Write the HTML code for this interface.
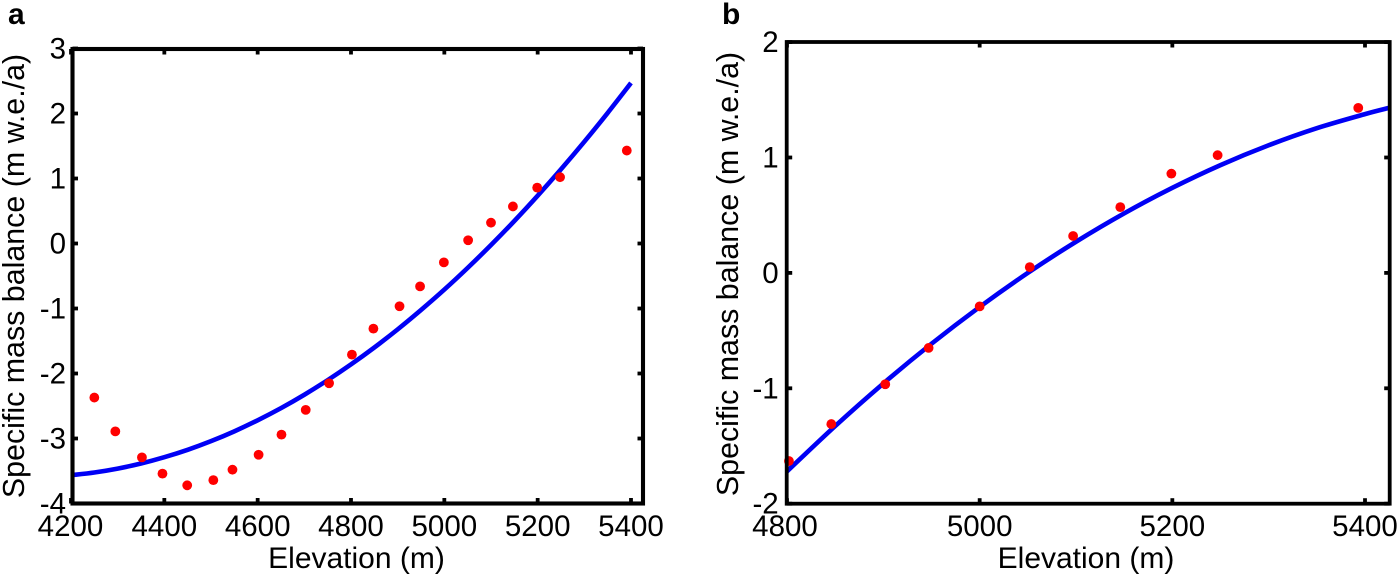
<!DOCTYPE html>
<html>
<head>
<meta charset="utf-8">
<title>Specific mass balance vs elevation</title>
<style>
html,body{margin:0;padding:0;background:#fff;}
svg{display:block;}
text{font-family:"Liberation Sans",sans-serif;fill:#000;}
</style>
</head>
<body>
<svg id="fig" width="1400" height="578" viewBox="0 0 1400 578" xmlns="http://www.w3.org/2000/svg">
<rect x="0" y="0" width="1400" height="578" fill="#fff"/>
<text x="8" y="24" font-size="30" font-weight="bold">a</text>
<text x="722" y="24" font-size="30" font-weight="bold">b</text>
<text x="356.5" y="568" font-size="30" text-anchor="middle">Elevation (m)</text>
<text x="1086" y="568" font-size="30" text-anchor="middle">Elevation (m)</text>
<text transform="translate(24,276) rotate(-90)" font-size="30.4" text-anchor="middle">Specific mass balance (m w.e./a)</text>
<text transform="translate(738,274) rotate(-90)" font-size="30.4" text-anchor="middle">Specific mass balance (m w.e./a)</text>
</svg>
<script>
const NS = 'http://www.w3.org/2000/svg';

const observedElevationA = [4250,4295,4352,4396,4449,4505,4546,4602,4651,4703,4753,4802,4848,4904,4948,4999,5051,5100,5147,5199,5248,5391];
const observedBalanceA = [-2.37,-2.89,-3.29,-3.54,-3.72,-3.64,-3.48,-3.25,-2.94,-2.56,-2.15,-1.71,-1.31,-0.965,-0.66,-0.29,0.05,0.32,0.57,0.86,1.02,1.43];
const fitElevationA = [4200,4250,4300,4350,4400,4450,4500,4550,4600,4650,4700,4750,4800,4850,4900,4950,5000,5050,5100,5150,5200,5250,5300,5350,5400];
const fitBalanceA = [-3.565,-3.523,-3.463,-3.385,-3.288,-3.174,-3.041,-2.890,-2.720,-2.533,-2.327,-2.102,-1.860,-1.600,-1.321,-1.023,-0.709,-0.375,-0.023,0.346,0.735,1.142,1.566,2.009,2.470];
const xTicksA = [4200,4400,4600,4800,5000,5200,5400];
const yTicksA = [-4,-3,-2,-1,0,1,2,3];

const observedElevationB = [4802,4846,4902,4947,5000,5052,5097,5146,5199,5247,5393];
const observedBalanceB = [-1.63,-1.31,-0.965,-0.65,-0.29,0.05,0.32,0.57,0.86,1.02,1.43];
const fitElevationB = [4800,4850,4900,4950,5000,5050,5100,5150,5200,5250,5300,5350,5400,5425];
const fitBalanceB = [-1.72,-1.327,-0.958,-0.614,-0.295,0.000,0.270,0.516,0.737,0.934,1.106,1.254,1.376,1.43];
const xTicksB = [4800,5000,5200,5400];
const yTicksB = [-2,-1,0,1,2];

const svg = document.getElementById('fig');

function add(tag, attrs) {
  const el = document.createElementNS(NS, tag);
  for (const k in attrs) el.setAttribute(k, attrs[k]);
  svg.appendChild(el);
  return el;
}

function smoothPath(pts) {
  let d = 'M' + pts[0][0].toFixed(2) + ' ' + pts[0][1].toFixed(2);
  for (let i = 0; i < pts.length - 1; i++) {
    const p0 = pts[Math.max(i - 1, 0)], p1 = pts[i], p2 = pts[i + 1], p3 = pts[Math.min(i + 2, pts.length - 1)];
    const c1x = p1[0] + (p2[0] - p0[0]) / 6, c1y = p1[1] + (p2[1] - p0[1]) / 6;
    const c2x = p2[0] - (p3[0] - p1[0]) / 6, c2y = p2[1] - (p3[1] - p1[1]) / 6;
    d += 'C' + c1x.toFixed(2) + ' ' + c1y.toFixed(2) + ' ' + c2x.toFixed(2) + ' ' + c2y.toFixed(2) + ' ' + p2[0].toFixed(2) + ' ' + p2[1].toFixed(2);
  }
  return d;
}

function drawPanel(p) {
  const sx = v => p.x0 + (v - p.xMinTick) * p.xScale;
  const sy = v => p.y0 - (v - p.yMinTick) * p.yScale;

  const pts = p.fitX.map((x, i) => [sx(x), sy(p.fitY[i])]);
  const line = add('path', {d: smoothPath(pts), fill: 'none', stroke: '#0000f5', 'stroke-width': 4.6});
  
  

  p.obsX.forEach((x, i) => {
    const dot = add('circle', {cx: sx(x).toFixed(2), cy: sy(p.obsY[i]).toFixed(2), r: 4.9, fill: '#ff0000'});
    
    
  });

  const frame = add('rect', {x: p.left, y: p.top, width: p.right - p.left, height: p.bottom - p.top, fill: 'none', stroke: '#000', 'stroke-width': p.sw});
  
  

  p.xTicks.forEach(v => {
    const x = sx(v);
    [[p.bottom, p.bottom - 5.5], [p.top, p.top + 5.5]].forEach(([a, b]) => {
      const t = add('line', {x1: x, x2: x, y1: a, y2: b, stroke: '#000', 'stroke-width': 3.8});
      
      
    });
    const label = add('text', {x: (v === p.xMinTick ? p.xFirstLabel : x), y: 536, 'font-size': 29.5, 'text-anchor': 'middle'});
    
    
    label.textContent = String(v);
  });

  p.yTicks.forEach(v => {
    const y = sy(v);
    [[p.left, p.left + 5.5], [p.right, p.right - 5.5]].forEach(([a, b]) => {
      const t = add('line', {x1: a, x2: b, y1: y, y2: y, stroke: '#000', 'stroke-width': 3.8});
      
      
    });
    const label = add('text', {x: p.left - p.labelGap, y: y + 10, 'font-size': 29.5, 'text-anchor': 'end'});
    
    
    label.textContent = String(v);
  });
}

drawPanel({
  id: 'panel-a', left: 72.5, right: 643, top: 49, bottom: 503.5, sw: 4.1,
  x0: 71, xMinTick: 4200, xScale: 560 / 1200, xFirstLabel: 70.5,
  y0: 503.5, yMinTick: -4, yScale: 65, labelGap: 6.5,
  fitX: fitElevationA, fitY: fitBalanceA, obsX: observedElevationA, obsY: observedBalanceA,
  xTicks: xTicksA, yTicks: yTicksA
});

drawPanel({
  id: 'panel-b', left: 786.7, right: 1389.7, top: 42, bottom: 503.7, sw: 3.8,
  x0: 787, xMinTick: 4800, xScale: 578 / 600, xFirstLabel: 785,
  y0: 503.7, yMinTick: -2, yScale: 115.4, labelGap: 8,
  fitX: fitElevationB, fitY: fitBalanceB, obsX: observedElevationB, obsY: observedBalanceB,
  xTicks: xTicksB, yTicks: yTicksB
});
</script>
</body>
</html>
